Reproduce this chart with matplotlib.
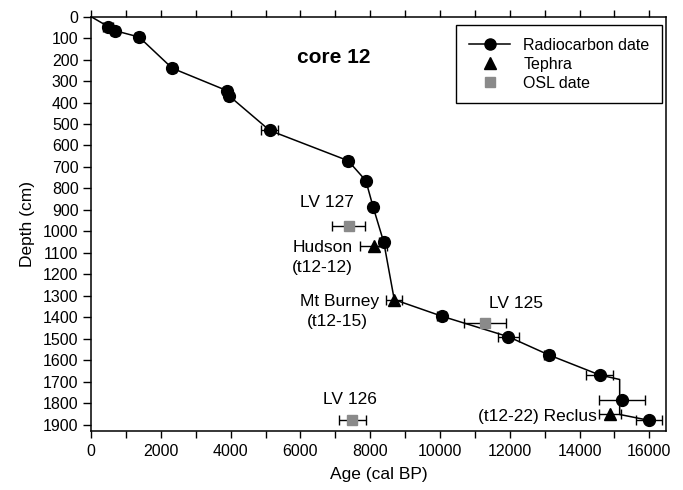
import matplotlib
matplotlib.use("Agg")
import matplotlib.pyplot as plt
from matplotlib.lines import Line2D
from matplotlib.ticker import MultipleLocator

plt.rcParams['font.family'] = ['Liberation Sans', 'DejaVu Sans']

# Radiocarbon dates
rc_age = [490, 680, 1378, 2325, 3900, 3950, 5120, 7368, 7876, 8087, 8390,
          10049, 11963, 13111, 14577, 15217, 15982]
rc_depth = [46, 65, 95, 240, 345, 368, 530, 671, 764, 888, 1051,
            1395, 1491, 1575, 1669, 1786, 1880]
rc_err = [150, 120, 120, 100, 100, 100, 240, 120, 100, 100, 130,
          120, 300, 120, 380, 670, 370]

# Tephra
tephra_age = [8100, 8690, 14882]
tephra_depth = [1068, 1318, 1853]
tephra_err = [380, 225, 310]

# OSL dates
osl_age = [7390, 11293, 7493]
osl_depth = [975, 1426, 1879]
osl_err = [470, 600, 390]

# Age-depth model line
model_age = [0, 490, 680, 1378, 2325, 3900, 3950, 5120, 7368, 7876, 8087, 8390,
             8690, 10049, 11963, 13111, 14577, 15150, 15150, 15982]
model_depth = [0, 46, 65, 95, 240, 345, 368, 530, 671, 764, 888, 1051,
               1318, 1395, 1491, 1575, 1669, 1690, 1853, 1880]

# Annotations
labels = ["LV 127", "Hudson", "(t12-12)", "Mt Burney", "(t12-15)", "LV 125",
          "(t12-22) Reclus", "LV 126"]
label_age = [6757, 6646, 6616, 8250, 7058, 12168, 14500, 7417]
label_depth = [867, 1075, 1170, 1326, 1419, 1334, 1861, 1784]
label_ha = ["center", "center", "center", "right", "center", "center", "right", "center"]

fig = plt.figure(figsize=(6.83, 4.90), dpi=100)
ax = fig.add_axes([0.1333, 0.1204, 0.8414, 0.8456])

ax.plot(model_age, model_depth, color='black', lw=1.1, zorder=2)
ax.errorbar(rc_age, rc_depth, xerr=rc_err, fmt='o', color='black', ms=8.5,
            ecolor='black', elinewidth=1, capsize=3.5, capthick=1, zorder=3)
ax.errorbar(tephra_age, tephra_depth, xerr=tephra_err, fmt='^', color='black', ms=8.5,
            ecolor='black', elinewidth=1, capsize=3.5, capthick=1, zorder=3)
ax.errorbar(osl_age, osl_depth, xerr=osl_err, fmt='s', color='#8a8a8a', ms=7,
            ecolor='black', elinewidth=1, capsize=3.5, capthick=1, zorder=3)

for t, a, d, h in zip(labels, label_age, label_depth, label_ha):
    ax.text(a, d, t, ha=h, va='center', fontsize=12.5)

ax.text(6957, 192, "core 12", ha='center', va='center', fontsize=15, fontweight='bold')

ax.set_xlim(0, 16470)
ax.set_ylim(1930, 0)
ax.xaxis.set_major_locator(MultipleLocator(2000))
ax.xaxis.set_minor_locator(MultipleLocator(1000))
ax.yaxis.set_major_locator(MultipleLocator(100))
ax.tick_params(axis='x', which='both', direction='out', top=True, length=5, width=1,
               labelsize=11.5, pad=4)
ax.tick_params(axis='y', which='both', direction='out', right=False, length=6, width=1,
               labelsize=11.5, pad=3)
ax.tick_params(axis='x', which='minor', length=5)
for s in ax.spines.values():
    s.set_linewidth(1.1)

ax.set_xlabel("Age (cal BP)", fontsize=12.5, labelpad=6)
ax.set_ylabel("Depth (cm)", fontsize=12.5, labelpad=6)

handles = [
    Line2D([], [], color='black', lw=1.1, marker='o', ms=8),
    Line2D([], [], color='black', lw=0, marker='^', ms=8),
    Line2D([], [], color='#8a8a8a', lw=0, marker='s', ms=7),
]
leg = ax.legend(handles, ["Radiocarbon date", "Tephra", "OSL date"], loc='upper right',
                bbox_to_anchor=(0.994, 0.98), borderaxespad=0, fontsize=11.5,
                fancybox=False, edgecolor='black', framealpha=1, handlelength=2.6,
                labelspacing=0.25, borderpad=0.8, handletextpad=0.8)
leg.get_frame().set_linewidth(1.0)

fig.savefig("out.png", dpi=100)
